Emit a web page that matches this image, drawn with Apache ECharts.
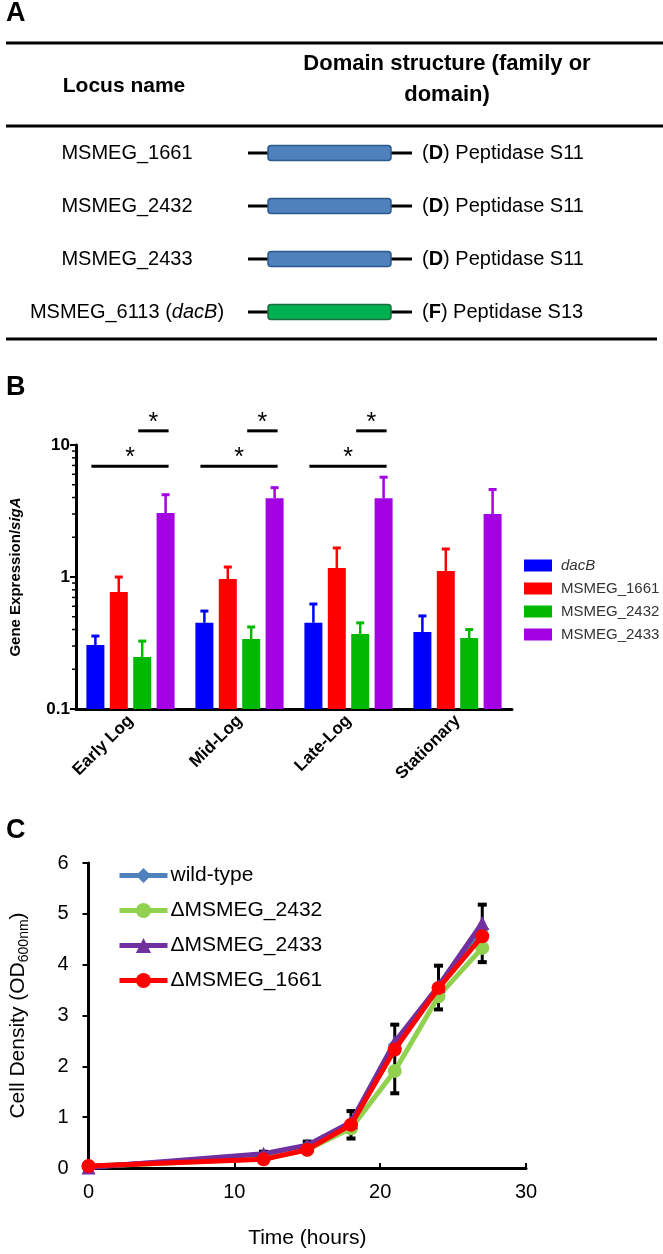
<!DOCTYPE html>
<html><head><meta charset="utf-8">
<script src="https://cdn.jsdelivr.net/npm/echarts@6/dist/echarts.min.js"></script>
<style>html,body{margin:0;padding:0;background:#fff}#c{width:663px;height:1254px}</style>
</head><body><div id="c"></div>
<script>
// ---------- Panel A data ----------
const loci = ['MSMEG_1661', 'MSMEG_2432', 'MSMEG_2433', 'MSMEG_6113'];
const lociAlias = ['', '', '', 'dacB'];
const domainFamily = ['D', 'D', 'D', 'F'];
const domainName = ['Peptidase S11', 'Peptidase S11', 'Peptidase S11', 'Peptidase S13'];

// ---------- Panel B data ----------
const phases = ['Early Log', 'Mid-Log', 'Late-Log', 'Stationary'];
const genes = ['dacB', 'MSMEG_1661', 'MSMEG_2432', 'MSMEG_2433'];
const exprDacB = [0.305, 0.45, 0.45, 0.383];
const exprDacBTop = [0.357, 0.552, 0.624, 0.507];
const expr1661 = [0.77, 0.966, 1.17, 1.11];
const expr1661Top = [1.0, 1.19, 1.66, 1.63];
const expr2432 = [0.248, 0.339, 0.37, 0.345];
const expr2432Top = [0.327, 0.418, 0.449, 0.40];
const expr2433 = [3.05, 3.95, 3.95, 3.0];
const expr2433Top = [4.2, 4.75, 5.7, 4.6];
const yTicksB = [0.1, 1, 10];
const yMinorB = [0.2, 0.3, 0.4, 0.5, 0.6, 0.7, 0.8, 0.9, 2, 3, 4, 5, 6, 7, 8, 9];
// significance brackets: phase index, level, from gene index, to gene index
const sigPhase = [0, 0, 1, 1, 2, 2];
const sigLevel = [6.9, 12.8, 6.9, 12.8, 6.9, 12.8];
const sigFrom = [0, 2, 0, 2, 0, 2];
const sigTo = [3, 3, 3, 3, 3, 3];

// ---------- Panel C data ----------
const hours = [0, 12, 15, 18, 21, 24, 27];
const odWild = [0.03, 0.22, 0.42, 0.88, 2.42, 3.55, 4.70];
const od2432 = [0.03, 0.18, 0.36, 0.78, 1.91, 3.38, 4.33];
const od2433 = [0.01, 0.28, 0.45, 0.90, 2.48, 3.58, 4.82];
const od1661 = [0.04, 0.17, 0.36, 0.85, 2.33, 3.54, 4.56];
const odErrLow = [0.0, 0.13, 0.30, 0.58, 1.47, 3.12, 4.05];
const odErrHigh = [0.06, 0.32, 0.52, 1.12, 2.82, 3.98, 5.18];
const lineNames = ['wild-type', '\u0394MSMEG_2432', '\u0394MSMEG_2433', '\u0394MSMEG_1661'];

// ---------- styles ----------
const FONT = '"Liberation Sans", Arial, sans-serif';
const barColors = ['#0000ff', '#ff0000', '#00b800', '#a300e3'];
const lineColors = ['#4f81bd', '#92d050', '#7030a0', '#ff0000'];
const lineSymbols = ['diamond', 'circle', 'triangle', 'circle'];
const familyFill = { D: '#4f81bd', F: '#00b050' };
const familyStroke = { D: '#2c5a8c', F: '#1f6b3f' };
const BAR_W = 18, BAR_STEP = 23.4;

// ---------- Panel A graphics ----------
const graphics = [];
function txt(x, y, text, size, weight, align, extra) {
  return {
    type: 'text', x: x, y: y, silent: true,
    style: Object.assign({
      text: text, fontSize: size, fontWeight: weight, fontFamily: FONT, fill: '#000',
      align: align, verticalAlign: 'middle', textAlign: align, textVerticalAlign: 'middle'
    }, extra || {})
  };
}
graphics.push(txt(6, 14, 'A', 27, 'bold', 'left'));
graphics.push(txt(6, 388, 'B', 27, 'bold', 'left'));
graphics.push(txt(6, 831, 'C', 27, 'bold', 'left'));
graphics.push({ type: 'line', silent: true, shape: { x1: 6, y1: 43, x2: 663, y2: 43 }, style: { stroke: '#000', lineWidth: 3 } });
graphics.push({ type: 'line', silent: true, shape: { x1: 6, y1: 126, x2: 663, y2: 126 }, style: { stroke: '#000', lineWidth: 3 } });
graphics.push({ type: 'line', silent: true, shape: { x1: 6, y1: 339, x2: 657, y2: 339 }, style: { stroke: '#000', lineWidth: 3 } });
graphics.push(txt(124, 86, 'Locus name', 21, 'bold', 'center'));
graphics.push(txt(447, 64, 'Domain structure (family or', 22, 'bold', 'center'));
graphics.push(txt(447, 95, 'domain)', 22, 'bold', 'center'));
loci.forEach(function (name, i) {
  const y = 153 + i * 53;
  const label = lociAlias[i] ? name + ' ({i|' + lociAlias[i] + '})' : name;
  graphics.push(txt(127, y, label, 20, 'normal', 'center', {
    rich: { i: { fontStyle: 'italic', fontSize: 20, fontFamily: FONT, fill: '#000' } }
  }));
  graphics.push({ type: 'line', silent: true, shape: { x1: 248, y1: y, x2: 412, y2: y }, style: { stroke: '#000', lineWidth: 3 } });
  graphics.push({ type: 'rect', silent: true, shape: { x: 268, y: y - 7.5, width: 123, height: 15, r: 3 },
    style: { fill: familyFill[domainFamily[i]], stroke: familyStroke[domainFamily[i]], lineWidth: 1.5 } });
  graphics.push(txt(422, y, '({b|' + domainFamily[i] + '}) ' + domainName[i], 20, 'normal', 'left', {
    rich: { b: { fontWeight: 'bold', fontSize: 20, fontFamily: FONT, fill: '#000' } }
  }));
});

// ---------- render functions ----------
const exprSeries = [
  [exprDacB, exprDacBTop], [expr1661, expr1661Top], [expr2432, expr2432Top], [expr2433, expr2433Top]
];
function barRender(si) {
  return function (params, api) {
    const cat = api.value(0);
    const p = api.coord([cat, api.value(1)]);
    const t = api.coord([cat, api.value(2)]);
    const b = api.coord([cat, yTicksB[0]]);
    const x = p[0] + (si - 1.5) * BAR_STEP;
    const col = barColors[si];
    return {
      type: 'group', children: [
        { type: 'line', shape: { x1: x, y1: p[1], x2: x, y2: t[1] }, style: { stroke: col, lineWidth: 2.5 } },
        { type: 'line', shape: { x1: x - 4, y1: t[1], x2: x + 4, y2: t[1] }, style: { stroke: col, lineWidth: 3 } },
        { type: 'rect', shape: { x: x - BAR_W / 2, y: p[1], width: BAR_W, height: b[1] - p[1] }, style: { fill: col } }
      ]
    };
  };
}
function sigRender(params, api) {
  const cat = api.value(0);
  const p = api.coord([cat, api.value(1)]);
  const x1 = p[0] + (api.value(2) - 1.5) * BAR_STEP - 4;
  const x2 = p[0] + (api.value(3) - 1.5) * BAR_STEP + 3;
  return {
    type: 'group', children: [
      { type: 'line', shape: { x1: x1, y1: p[1], x2: x2, y2: p[1] }, style: { stroke: '#000', lineWidth: 3 } },
      { type: 'text', x: (x1 + x2) / 2, y: p[1] - 8, style: { text: '*', fontSize: 25, fontFamily: FONT, fill: '#000', align: 'center', verticalAlign: 'middle' } }
    ]
  };
}
function minorRender(params, api) {
  const p = api.coord([0, api.value(1)]);
  const x = params.coordSys.x;
  return { type: 'line', shape: { x1: x - 4, y1: p[1], x2: x, y2: p[1] }, style: { stroke: '#000', lineWidth: 1.5 } };
}
function errRender(params, api) {
  const t = api.value(0);
  const lo = api.coord([t, api.value(1)]);
  const hi = api.coord([t, api.value(2)]);
  const x = lo[0], cw = 4.5;
  return {
    type: 'group', children: [
      { type: 'line', shape: { x1: x, y1: lo[1], x2: x, y2: hi[1] }, style: { stroke: '#000', lineWidth: 3 } },
      { type: 'line', shape: { x1: x - cw, y1: lo[1], x2: x + cw, y2: lo[1] }, style: { stroke: '#000', lineWidth: 4 } },
      { type: 'line', shape: { x1: x - cw, y1: hi[1], x2: x + cw, y2: hi[1] }, style: { stroke: '#000', lineWidth: 4 } }
    ]
  };
}

const series = [];
genes.forEach(function (g, si) {
  series.push({
    name: g, type: 'custom', xAxisIndex: 0, yAxisIndex: 0, silent: true,
    itemStyle: { color: barColors[si] },
    encode: { x: 0, y: [1, 2] },
    data: phases.map(function (ph, ci) { return [ci, exprSeries[si][0][ci], exprSeries[si][1][ci]]; }),
    renderItem: barRender(si), z: 2
  });
});
series.push({
  name: 'sig', type: 'custom', xAxisIndex: 0, yAxisIndex: 0, silent: true, clip: false, z: 4,
  encode: { x: 0, y: 1 },
  data: sigPhase.map(function (c, k) { return [c, sigLevel[k], sigFrom[k], sigTo[k]]; }),
  renderItem: sigRender
});
series.push({
  name: 'minor', type: 'custom', xAxisIndex: 0, yAxisIndex: 0, silent: true, clip: false, z: 4,
  encode: { x: 0, y: 1 },
  data: yMinorB.map(function (v) { return [0, v]; }),
  renderItem: minorRender
});
series.push({
  name: 'err', type: 'custom', xAxisIndex: 1, yAxisIndex: 1, silent: true, clip: false, z: 1,
  encode: { x: 0, y: [1, 2] },
  data: hours.map(function (h, i) { return [h, odErrLow[i], odErrHigh[i]]; }),
  renderItem: errRender
});
const odSeries = [odWild, od2432, od2433, od1661];
lineNames.forEach(function (n, i) {
  series.push({
    name: n, type: 'line', xAxisIndex: 1, yAxisIndex: 1, silent: true,
    data: hours.map(function (h, k) { return [h, odSeries[i][k]]; }),
    symbol: lineSymbols[i], symbolSize: 14, showSymbol: true,
    lineStyle: { width: 5, color: lineColors[i] },
    itemStyle: { color: lineColors[i] },
    z: 3 + i
  });
});

const chart = echarts.init(document.getElementById('c'), null, { renderer: 'canvas' });
chart.setOption({
  animation: false,
  backgroundColor: '#fff',
  textStyle: { fontFamily: FONT },
  graphic: graphics,
  grid: [
    { left: 70, top: 445, width: 442, height: 264 },
    { left: 84, top: 863, width: 442, height: 305 }
  ],
  legend: [
    {
      data: genes, orient: 'vertical', left: 519, top: 553, itemWidth: 28, itemHeight: 12, itemGap: 8,
      icon: 'rect', selectedMode: false,
      textStyle: { fontSize: 15, color: '#333', fontFamily: FONT, padding: [0, 0, 0, 4],
        rich: { i: { fontStyle: 'italic', fontSize: 15, color: '#333', fontFamily: FONT } } },
      formatter: function (n) { return n === 'dacB' ? '{i|dacB}' : n; }
    },
    {
      data: lineNames, orient: 'vertical', left: 112, top: 860, itemWidth: 48, itemHeight: 19, itemGap: 14,
      selectedMode: false,
      lineStyle: { width: 5 },
      textStyle: { fontSize: 21, color: '#000', fontFamily: FONT, padding: [0, 0, 0, -2] }
    }
  ],
  xAxis: [
    {
      gridIndex: 0, type: 'category', data: phases,
      axisLine: { lineStyle: { color: '#000', width: 3 } },
      axisTick: { alignWithLabel: true, length: 5, lineStyle: { color: '#000', width: 3 } },
      axisLabel: { rotate: 45, fontSize: 17, fontWeight: 'bold', color: '#000', margin: 9, fontFamily: FONT }
    },
    {
      gridIndex: 1, type: 'value', min: 0, max: 30, interval: 10,
      axisLine: { show: true, lineStyle: { color: '#000', width: 3 } },
      axisTick: { show: true, inside: true, length: 5, lineStyle: { color: '#000', width: 2 } },
      splitLine: { show: false },
      axisLabel: { fontSize: 20, color: '#000', margin: 14, fontFamily: FONT },
      name: 'Time (hours)', nameLocation: 'middle', nameGap: 60,
      nameTextStyle: { fontSize: 21, color: '#000', fontFamily: FONT }
    }
  ],
  yAxis: [
    {
      gridIndex: 0, type: 'log', logBase: 10, min: yTicksB[0], max: yTicksB[2],
      axisLine: { show: true, lineStyle: { color: '#000', width: 3 } },
      axisTick: { show: true, length: 6, lineStyle: { color: '#000', width: 2 } },
      splitLine: { show: false },
      axisLabel: { fontSize: 17, fontWeight: 'bold', color: '#000', margin: 6, fontFamily: FONT },
      name: 'Gene Expression/{i|sigA}', nameLocation: 'middle', nameRotate: 90, nameGap: 53,
      nameTextStyle: { fontSize: 15, fontWeight: 'bold', color: '#000', fontFamily: FONT,
        rich: { i: { fontSize: 15, fontWeight: 'bold', fontStyle: 'italic', color: '#000', fontFamily: FONT } } }
    },
    {
      gridIndex: 1, type: 'value', min: 0, max: 6, interval: 1,
      axisLine: { show: true, lineStyle: { color: '#000', width: 3 } },
      axisTick: { show: true, length: 6, lineStyle: { color: '#000', width: 2 } },
      splitLine: { show: false },
      axisLabel: { fontSize: 20, color: '#000', margin: 20, fontFamily: FONT },
      name: '{a|Cell Density (OD}{s|600nm}{a|)}', nameLocation: 'middle', nameRotate: 90, nameGap: 57,
      nameTextStyle: { color: '#000', fontFamily: FONT,
        rich: {
          a: { fontSize: 21, lineHeight: 26, color: '#000', fontFamily: FONT },
          s: { fontSize: 14, lineHeight: 16, verticalAlign: 'bottom', color: '#000', fontFamily: FONT }
        } }
    }
  ],
  series: series
});
</script></body></html>
